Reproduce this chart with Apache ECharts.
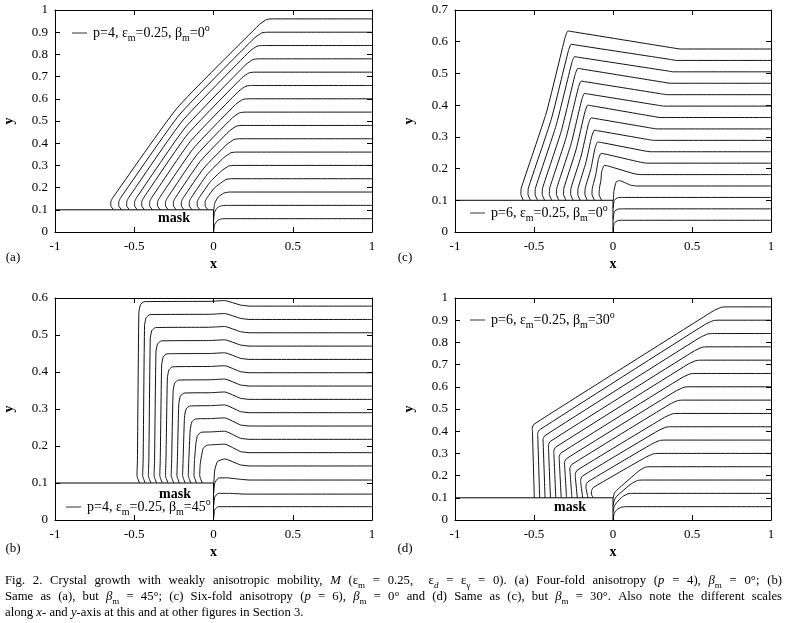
<!DOCTYPE html>
<html><head><meta charset="utf-8">
<script src="https://cdn.jsdelivr.net/npm/echarts@6/dist/echarts.min.js"></script>
<style>html,body{margin:0;padding:0;background:#fff}#c{width:786px;height:623px}</style>
</head><body><div id="c"></div>
<script>
// ---------- data ----------
const xTicks = [-1, -0.5, 0, 0.5, 1];
const yStep = 0.1;
const yMaxA = 1, yMaxB = 0.6, yMaxC = 0.7, yMaxD = 1;
const maskLine = [[-1, 0.1], [0, 0.1], [0, 0]];

// (a) p=4, beta=0
const curvesA = [
 [[-0.63,0.10],[-0.648,0.118],[-0.647,0.138],[-0.635,0.155],[-0.23,0.558],[0.29,0.935],[0.335,0.957],[0.37,0.96],[1,0.96]],
 [[-0.58,0.10],[-0.598,0.118],[-0.597,0.138],[-0.585,0.155],[-0.215,0.528],[0.26,0.875],[0.305,0.897],[0.34,0.90],[1,0.90]],
 [[-0.53,0.10],[-0.548,0.118],[-0.547,0.138],[-0.535,0.155],[-0.199,0.498],[0.23,0.815],[0.275,0.837],[0.31,0.84],[1,0.84]],
 [[-0.48,0.10],[-0.498,0.118],[-0.497,0.138],[-0.485,0.155],[-0.181,0.468],[0.205,0.755],[0.25,0.777],[0.285,0.78],[1,0.78]],
 [[-0.435,0.10],[-0.453,0.118],[-0.452,0.138],[-0.44,0.155],[-0.166,0.438],[0.18,0.695],[0.225,0.717],[0.26,0.72],[1,0.72]],
 [[-0.385,0.10],[-0.403,0.118],[-0.402,0.138],[-0.39,0.155],[-0.146,0.408],[0.16,0.635],[0.205,0.657],[0.24,0.66],[1,0.66]],
 [[-0.335,0.10],[-0.353,0.118],[-0.352,0.138],[-0.34,0.155],[-0.125,0.378],[0.14,0.575],[0.185,0.597],[0.22,0.60],[1,0.60]],
 [[-0.285,0.10],[-0.303,0.118],[-0.302,0.138],[-0.29,0.155],[-0.105,0.348],[0.12,0.515],[0.165,0.537],[0.2,0.54],[1,0.54]],
 [[-0.235,0.10],[-0.253,0.118],[-0.252,0.138],[-0.24,0.155],[-0.084,0.318],[0.10,0.455],[0.145,0.477],[0.18,0.48],[1,0.48]],
 [[-0.185,0.10],[-0.203,0.118],[-0.202,0.138],[-0.19,0.155],[-0.061,0.288],[0.085,0.395],[0.13,0.417],[0.165,0.42],[1,0.42]],
 [[-0.135,0.10],[-0.153,0.118],[-0.152,0.138],[-0.14,0.155],[-0.041,0.258],[0.065,0.335],[0.11,0.357],[0.145,0.36],[1,0.36]],
 [[-0.085,0.10],[-0.103,0.118],[-0.102,0.138],[-0.09,0.155],[-0.018,0.228],[0.05,0.275],[0.095,0.297],[0.13,0.30],[1,0.30]],
 [[-0.035,0.10],[-0.053,0.118],[-0.052,0.138],[-0.04,0.155],[0.005,0.198],[0.035,0.215],[0.08,0.237],[0.115,0.24],[1,0.24]],
 [[0.002,0.10],[0.008,0.13],[0.03,0.158],[0.065,0.175],[0.1,0.18],[1,0.18]],
 [[0.001,0.055],[0.007,0.09],[0.025,0.11],[0.05,0.118],[0.08,0.12],[1,0.12]],
 [[0.001,0.0],[0.007,0.033],[0.025,0.052],[0.05,0.059],[0.08,0.06],[1,0.06]]
];

// (b) p=4, beta=45
const curvesB = [
 [[-0.467,0.10],[-0.483,0.12],[-0.48,0.16],[-0.471,0.56],[-0.461,0.582],[-0.438,0.59],[-0.02,0.591],[0.07,0.593],[0.17,0.581],[0.23,0.578],[1,0.578]],
 [[-0.431,0.10],[-0.447,0.12],[-0.444,0.16],[-0.435,0.525],[-0.425,0.547],[-0.402,0.555],[-0.02,0.556],[0.07,0.558],[0.17,0.545],[0.23,0.542],[1,0.542]],
 [[-0.395,0.10],[-0.411,0.12],[-0.408,0.16],[-0.399,0.49],[-0.389,0.512],[-0.366,0.52],[-0.02,0.521],[0.07,0.523],[0.17,0.509],[0.23,0.506],[1,0.506]],
 [[-0.359,0.10],[-0.375,0.12],[-0.372,0.16],[-0.363,0.454],[-0.353,0.476],[-0.33,0.484],[-0.02,0.485],[0.07,0.487],[0.17,0.473],[0.23,0.47],[1,0.47]],
 [[-0.323,0.10],[-0.339,0.12],[-0.336,0.16],[-0.327,0.419],[-0.317,0.441],[-0.294,0.449],[-0.02,0.45],[0.07,0.452],[0.17,0.437],[0.23,0.434],[1,0.434]],
 [[-0.287,0.10],[-0.303,0.12],[-0.3,0.16],[-0.291,0.384],[-0.281,0.406],[-0.258,0.414],[-0.02,0.415],[0.07,0.417],[0.17,0.401],[0.23,0.398],[1,0.398]],
 [[-0.251,0.10],[-0.267,0.12],[-0.264,0.16],[-0.255,0.348],[-0.245,0.37],[-0.222,0.378],[-0.02,0.379],[0.07,0.381],[0.17,0.365],[0.23,0.362],[1,0.362]],
 [[-0.215,0.10],[-0.231,0.12],[-0.228,0.16],[-0.219,0.313],[-0.209,0.335],[-0.186,0.343],[-0.02,0.344],[0.07,0.346],[0.17,0.329],[0.23,0.326],[1,0.326]],
 [[-0.179,0.10],[-0.195,0.12],[-0.192,0.16],[-0.183,0.278],[-0.173,0.30],[-0.15,0.308],[-0.02,0.309],[0.07,0.311],[0.17,0.293],[0.23,0.29],[1,0.29]],
 [[-0.143,0.10],[-0.159,0.12],[-0.156,0.16],[-0.147,0.243],[-0.137,0.265],[-0.114,0.273],[-0.02,0.274],[0.07,0.276],[0.17,0.257],[0.23,0.254],[1,0.254]],
 [[-0.107,0.10],[-0.123,0.12],[-0.12,0.16],[-0.111,0.207],[-0.101,0.229],[-0.078,0.237],[-0.02,0.238],[0.07,0.24],[0.17,0.221],[0.23,0.218],[1,0.218]],
 [[-0.071,0.10],[-0.087,0.12],[-0.084,0.15],[-0.075,0.175],[-0.065,0.194],[-0.042,0.202],[-0.02,0.203],[0.07,0.205],[0.17,0.185],[0.23,0.182],[1,0.182]],
 [[0.002,0.10],[0.008,0.135],[0.025,0.158],[0.07,0.165],[0.17,0.149],[0.23,0.146],[1,0.146]],
 [[0.001,0.072],[0.008,0.1],[0.03,0.113],[0.08,0.114],[0.17,0.11],[0.23,0.108],[1,0.108]],
 [[0.001,0.038],[0.008,0.062],[0.03,0.072],[0.1,0.072],[0.2,0.07],[1,0.07]],
 [[0.001,0.005],[0.008,0.028],[0.03,0.036],[1,0.036]]
];

// (c) p=6, beta=0
const curvesC = [
 [[-0.567,0.10],[-0.583,0.118],[-0.581,0.138],[-0.422,0.376],[-0.303,0.614],[-0.286,0.634],[-0.261,0.632],[0.385,0.58],[0.425,0.577],[1,0.577]],
 [[-0.522,0.10],[-0.538,0.118],[-0.536,0.138],[-0.391,0.355],[-0.282,0.572],[-0.265,0.592],[-0.24,0.59],[0.364,0.544],[0.404,0.541],[1,0.541]],
 [[-0.477,0.10],[-0.493,0.118],[-0.491,0.138],[-0.36,0.336],[-0.261,0.533],[-0.244,0.553],[-0.219,0.551],[0.343,0.508],[0.383,0.505],[1,0.505]],
 [[-0.432,0.10],[-0.448,0.118],[-0.446,0.138],[-0.328,0.317],[-0.24,0.496],[-0.223,0.516],[-0.198,0.514],[0.322,0.472],[0.362,0.469],[1,0.469]],
 [[-0.387,0.10],[-0.403,0.118],[-0.401,0.138],[-0.297,0.297],[-0.219,0.456],[-0.202,0.476],[-0.177,0.474],[0.301,0.436],[0.341,0.433],[1,0.433]],
 [[-0.342,0.10],[-0.358,0.118],[-0.356,0.138],[-0.265,0.278],[-0.198,0.417],[-0.181,0.437],[-0.156,0.435],[0.28,0.40],[0.32,0.397],[1,0.397]],
 [[-0.297,0.10],[-0.313,0.118],[-0.311,0.138],[-0.234,0.259],[-0.177,0.38],[-0.16,0.40],[-0.135,0.398],[0.259,0.364],[0.299,0.361],[1,0.361]],
 [[-0.252,0.10],[-0.268,0.118],[-0.266,0.138],[-0.202,0.239],[-0.156,0.34],[-0.139,0.36],[-0.114,0.358],[0.238,0.328],[0.278,0.325],[1,0.325]],
 [[-0.207,0.10],[-0.223,0.118],[-0.221,0.138],[-0.171,0.22],[-0.135,0.301],[-0.118,0.321],[-0.093,0.319],[0.217,0.292],[0.257,0.289],[1,0.289]],
 [[-0.162,0.10],[-0.178,0.118],[-0.176,0.138],[-0.139,0.201],[-0.114,0.264],[-0.097,0.284],[-0.072,0.282],[0.196,0.256],[0.236,0.253],[1,0.253]],
 [[-0.117,0.10],[-0.133,0.118],[-0.131,0.138],[-0.108,0.183],[-0.093,0.228],[-0.076,0.248],[-0.051,0.246],[0.174,0.22],[0.214,0.217],[1,0.217]],
 [[-0.072,0.10],[-0.088,0.118],[-0.086,0.138],[-0.076,0.164],[-0.072,0.19],[-0.055,0.21],[-0.03,0.208],[0.132,0.184],[0.172,0.181],[1,0.181]],
 [[0.002,0.10],[0.006,0.13],[0.02,0.158],[0.04,0.162],[0.11,0.148],[0.15,0.145],[1,0.145]],
 [[0.001,0.075],[0.008,0.1],[0.03,0.108],[0.06,0.109],[1,0.109]],
 [[0.001,0.04],[0.008,0.064],[0.03,0.072],[0.06,0.073],[1,0.073]],
 [[0.001,0.008],[0.008,0.028],[0.03,0.036],[0.06,0.037],[1,0.037]]
];

// (d) p=6, beta=30
const curvesD = [
 [[-0.498,0.10],[-0.51,0.40],[-0.511,0.415],[-0.499,0.432],[0.635,0.942],[0.685,0.958],[0.715,0.96],[1,0.96]],
 [[-0.464,0.10],[-0.476,0.374],[-0.477,0.389],[-0.465,0.406],[0.585,0.882],[0.635,0.898],[0.665,0.90],[1,0.90]],
 [[-0.43,0.10],[-0.442,0.348],[-0.443,0.363],[-0.431,0.38],[0.55,0.822],[0.60,0.838],[0.63,0.84],[1,0.84]],
 [[-0.396,0.10],[-0.408,0.322],[-0.409,0.337],[-0.397,0.354],[0.515,0.762],[0.565,0.778],[0.595,0.78],[1,0.78]],
 [[-0.362,0.10],[-0.374,0.296],[-0.375,0.311],[-0.363,0.328],[0.475,0.702],[0.525,0.718],[0.555,0.72],[1,0.72]],
 [[-0.328,0.10],[-0.34,0.27],[-0.341,0.285],[-0.329,0.302],[0.438,0.642],[0.488,0.658],[0.518,0.66],[1,0.66]],
 [[-0.294,0.10],[-0.306,0.244],[-0.307,0.259],[-0.295,0.276],[0.40,0.582],[0.45,0.598],[0.48,0.60],[1,0.60]],
 [[-0.26,0.10],[-0.272,0.218],[-0.273,0.233],[-0.261,0.25],[0.36,0.522],[0.41,0.538],[0.44,0.54],[1,0.54]],
 [[-0.226,0.10],[-0.238,0.192],[-0.239,0.207],[-0.227,0.224],[0.325,0.462],[0.375,0.478],[0.405,0.48],[1,0.48]],
 [[-0.192,0.10],[-0.204,0.166],[-0.205,0.181],[-0.193,0.198],[0.285,0.402],[0.335,0.418],[0.365,0.42],[1,0.42]],
 [[-0.158,0.10],[-0.17,0.14],[-0.171,0.155],[-0.159,0.172],[0.245,0.342],[0.295,0.358],[0.325,0.36],[1,0.36]],
 [[-0.124,0.10],[-0.136,0.114],[-0.137,0.129],[-0.125,0.146],[0.205,0.282],[0.255,0.298],[0.285,0.30],[1,0.30]],
 [[0.002,0.10],[0.008,0.12],[0.025,0.135],[0.165,0.222],[0.205,0.238],[0.235,0.24],[1,0.24]],
 [[0.001,0.065],[0.008,0.09],[0.025,0.108],[0.115,0.163],[0.155,0.178],[0.185,0.18],[1,0.18]],
 [[0.001,0.035],[0.008,0.062],[0.025,0.08],[0.06,0.105],[0.095,0.118],[0.125,0.12],[1,0.12]],
 [[0.001,0.005],[0.008,0.03],[0.025,0.047],[0.05,0.057],[0.08,0.06],[1,0.06]]
];

const panelLabels = ['(a)', '(c)', '(b)', '(d)'];
const legendP = ['4', '6', '4', '6'];
const legendBeta = ['0', '0', '45', '30'];

// ---------- layout ----------
const SERIF = 'Liberation Serif';
const grids = [
  {left: 55, top: 10, width: 317, height: 222},
  {left: 455, top: 10, width: 316, height: 222},
  {left: 55, top: 298, width: 317, height: 222},
  {left: 455, top: 298, width: 316, height: 222}
];
const yMaxes = [yMaxA, yMaxC, yMaxB, yMaxD];
const curveSets = [curvesA, curvesC, curvesB, curvesD];

const xAxes = [], yAxes = [], series = [];
const axLine = {show: true, onZero: false, lineStyle: {color: '#000', width: 1}};
const axTick = {show: true, inside: true, length: 5, lineStyle: {color: '#000', width: 1}};
grids.forEach((g, i) => {
  const xBase = {type: 'value', gridIndex: i, min: xTicks[0], max: xTicks[xTicks.length - 1],
    interval: xTicks[1] - xTicks[0], splitLine: {show: false}, axisLine: axLine, axisTick: axTick};
  xAxes.push(Object.assign({}, xBase, {position: 'bottom',
    axisLabel: {color: '#000', fontFamily: SERIF, fontSize: 13, margin: 8},
    name: 'x', nameLocation: 'middle', nameGap: 25,
    nameTextStyle: {color: '#000', fontFamily: SERIF, fontSize: 14, fontWeight: 'bold'}}));
  xAxes.push(Object.assign({}, xBase, {position: 'top', axisLabel: {show: false}}));
  const yBase = {type: 'value', gridIndex: i, min: 0, max: yMaxes[i], interval: yStep,
    splitLine: {show: false}, axisLine: axLine, axisTick: axTick};
  yAxes.push(Object.assign({}, yBase, {position: 'left',
    axisLabel: {color: '#000', fontFamily: SERIF, fontSize: 13, margin: 7},
    name: 'y', nameLocation: 'middle', nameGap: 39, nameRotate: 90,
    nameTextStyle: {color: '#000', fontFamily: SERIF, fontSize: 14, fontWeight: 'bold'}}));
  yAxes.push(Object.assign({}, yBase, {position: 'right', axisLabel: {show: false}}));

  const lineCommon = {type: 'line', xAxisIndex: 2 * i, yAxisIndex: 2 * i, symbol: 'none',
    showSymbol: false, silent: true, animation: false, z: 3};
  series.push(Object.assign({}, lineCommon, {data: maskLine, lineStyle: {color: '#000', width: 1}}));
  curveSets[i].forEach(c => series.push(Object.assign({}, lineCommon,
    {data: c, smooth: 0.15, lineStyle: {color: '#111', width: 1}})));
});

// ---------- texts ----------
const legRich = {
  n: {fontFamily: SERIF, fontSize: 14, fill: '#000', lineHeight: 20, verticalAlign: 'middle'},
  s: {fontFamily: SERIF, fontSize: 10, fill: '#000', lineHeight: 20, verticalAlign: 'bottom'},
  p: {fontFamily: SERIF, fontSize: 10, fill: '#000', lineHeight: 20, verticalAlign: 'top'}
};
const legPos = [[72, 33], [470, 213], [66, 507], [470, 320]];
const graphics = [];
legPos.forEach((p, i) => {
  graphics.push({type: 'line', shape: {x1: p[0], y1: p[1], x2: p[0] + 15, y2: p[1]},
    style: {stroke: '#333', lineWidth: 1}, z: 10});
  graphics.push({type: 'text', x: p[0] + 21, y: p[1], z: 10, style: {
    text: '{n|p=' + legendP[i] + ', ε}{s|m}{n|=0.25, β}{s|m}{n|=' + legendBeta[i] + '}{p|o}',
    rich: legRich, verticalAlign: 'middle', align: 'left'}});
});
const maskPos = [[174, 218], [175, 494], [570, 507]];
maskPos.forEach(p => graphics.push({type: 'text', x: p[0], y: p[1], z: 10, style: {
  text: 'mask', fontFamily: SERIF, fontSize: 14, fontWeight: 'bold', fill: '#000',
  align: 'center', verticalAlign: 'middle'}}));
const panelPos = [[13, 258], [405, 258], [13, 549], [405, 549]];
panelPos.forEach((p, i) => graphics.push({type: 'text', x: p[0], y: p[1], style: {
  text: panelLabels[i], fontFamily: SERIF, fontSize: 13, fill: '#000',
  align: 'center', verticalAlign: 'middle'}}));

// caption (justified lines 1-2)
const capSize = 12.7, capSub = 9;
const capStyles = {r: ['normal', capSize], i: ['italic', capSize], s: ['normal', capSub], si: ['italic', capSub]};
const capLines = [
 [['r','Fig. 2. Crystal growth with weakly anisotropic mobility, '],['i','M'],['r',' (ε'],['s','m'],['r',' = 0.25,  ε'],['si','d'],['r',' = ε'],['s','γ'],['r',' = 0). (a) Four-fold anisotropy ('],['i','p'],['r',' = 4), '],['i','β'],['s','m'],['r',' = 0°; (b)']],
 [['r','Same as (a), but '],['i','β'],['s','m'],['r',' = 45°; (c) Six-fold anisotropy ('],['i','p'],['r',' = 6), '],['i','β'],['s','m'],['r',' = 0° and (d) Same as (c), but '],['i','β'],['s','m'],['r',' = 30°. Also note the different scales']],
 [['r','along '],['i','x'],['r','- and '],['i','y'],['r','-axis at this and at other figures in Section 3.']]
];
const capY = [581, 597, 613];
const capTarget = [777, 777, null];
const mctx = document.createElement('canvas').getContext('2d');
capLines.forEach((parts, li) => {
  const pieces = [];
  parts.forEach(([st, txt]) => txt.split(/( )/).forEach(t => { if (t !== '') pieces.push({st, t}); }));
  let w = 0, ns = 0;
  pieces.forEach(p => {
    if (p.t === ' ') { ns++; return; }
    const [fs, sz] = capStyles[p.st];
    mctx.font = fs + ' ' + sz + 'px "' + SERIF + '"';
    w += mctx.measureText(p.t).width;
  });
  mctx.font = 'normal ' + capSize + 'px "' + SERIF + '"';
  const natSp = mctx.measureText(' ').width;
  const spW = capTarget[li] ? Math.max(natSp, (capTarget[li] - w) / ns) : natSp;
  const rich = {
    r: {fontFamily: SERIF, fontSize: capSize, fill: '#000', lineHeight: 18, verticalAlign: 'middle'},
    i: {fontFamily: SERIF, fontSize: capSize, fontStyle: 'italic', fill: '#000', lineHeight: 18, verticalAlign: 'middle'},
    s: {fontFamily: SERIF, fontSize: capSub, fill: '#000', lineHeight: 18, verticalAlign: 'bottom'},
    si: {fontFamily: SERIF, fontSize: capSub, fontStyle: 'italic', fill: '#000', lineHeight: 18, verticalAlign: 'bottom'},
    sp: {fontFamily: SERIF, fontSize: capSize, width: spW, lineHeight: 18, verticalAlign: 'middle'}
  };
  const text = pieces.map(p => p.t === ' ' ? '{sp| }' : '{' + p.st + '|' + p.t + '}').join('');
  graphics.push({type: 'text', x: 5, y: capY[li], style: {text, rich, align: 'left', verticalAlign: 'middle'}});
});

const chart = echarts.init(document.getElementById('c'), null, {renderer: 'canvas'});
chart.setOption({
  animation: false,
  backgroundColor: '#fff',
  grid: grids,
  xAxis: xAxes,
  yAxis: yAxes,
  series: series,
  graphic: graphics
});
</script>
</body></html>
